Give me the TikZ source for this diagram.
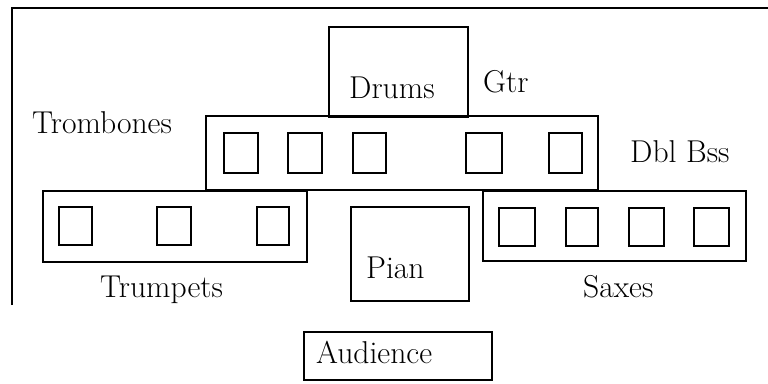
\documentclass[tikz,border=0pt]{standalone}
\begin{document}
\begin{tikzpicture}[x=1pt,y=-1pt,
  box/.style={draw=black,line width=2pt,inner sep=0pt,outer sep=0pt,anchor=north west},
  seat/.style={draw=black,line width=2.2pt,inner sep=0pt,outer sep=0pt,anchor=north west,minimum width=34pt,minimum height=38pt},
  lbl/.style={anchor=base west,inner sep=0pt,font=\fontsize{31.6}{38}\selectfont}]
\useasboundingbox (0,0) rectangle (768,383);
% frame
\coordinate (fa) at (12,305);
\coordinate (fb) at (12,8);
\coordinate (fc) at (768,8);
\draw[line width=2pt] (fa) -- (fb) -- (fc);
% boxes
\node[box,minimum width=139pt,minimum height=90pt] (drumsbox) at (329,27) {};
\node[box,minimum width=392pt,minimum height=74pt] (trombox) at (206,116) {};
\node[box,minimum width=264pt,minimum height=71pt] (trumpbox) at (43,191) {};
\node[box,minimum width=263pt,minimum height=70pt] (saxbox) at (483,191) {};
\node[box,minimum width=118pt,minimum height=94pt] (pianbox) at (351,207) {};
\node[box,minimum width=188pt,minimum height=48pt] (audbox) at (304,332) {};
% trombone seats
\node[seat,minimum height=40pt] (tb1) at (224,133) {};
\node[seat,minimum height=40pt] (tb2) at (288,133) {};
\node[seat,minimum height=40pt,minimum width=33pt] (tb3) at (353,133) {};
\node[seat,minimum height=40pt,minimum width=36pt] (tb4) at (466,133) {};
\node[seat,minimum height=40pt,minimum width=33pt] (tb5) at (549,133) {};
% trumpet seats
\node[seat,minimum width=33pt] (tp1) at (59,207) {};
\node[seat] (tp2) at (157,207) {};
\node[seat,minimum width=32pt] (tp3) at (257,207) {};
% sax seats
\node[seat,minimum width=36pt] (sx1) at (499,208) {};
\node[seat,minimum width=32pt] (sx2) at (566,208) {};
\node[seat,minimum width=35pt] (sx3) at (629,208) {};
\node[seat,minimum width=35pt] (sx4) at (694,208) {};
% labels
\node[lbl] (drums) at (349,98) {Drums};
\node[lbl] (gtr) at (483,92) {Gtr};
\node[lbl] (trombones) at (32,133) {Trombones};
\node[lbl] (dblbss) at (630,162) {Dbl Bss};
\node[lbl] (trumpets) at (100,297) {Trumpets};
\node[lbl] (pian) at (366,278) {Pian};
\node[lbl] (saxes) at (583,297) {Saxes};
\node[lbl] (audience) at (316,363) {Audience};
\end{tikzpicture}
\end{document}
